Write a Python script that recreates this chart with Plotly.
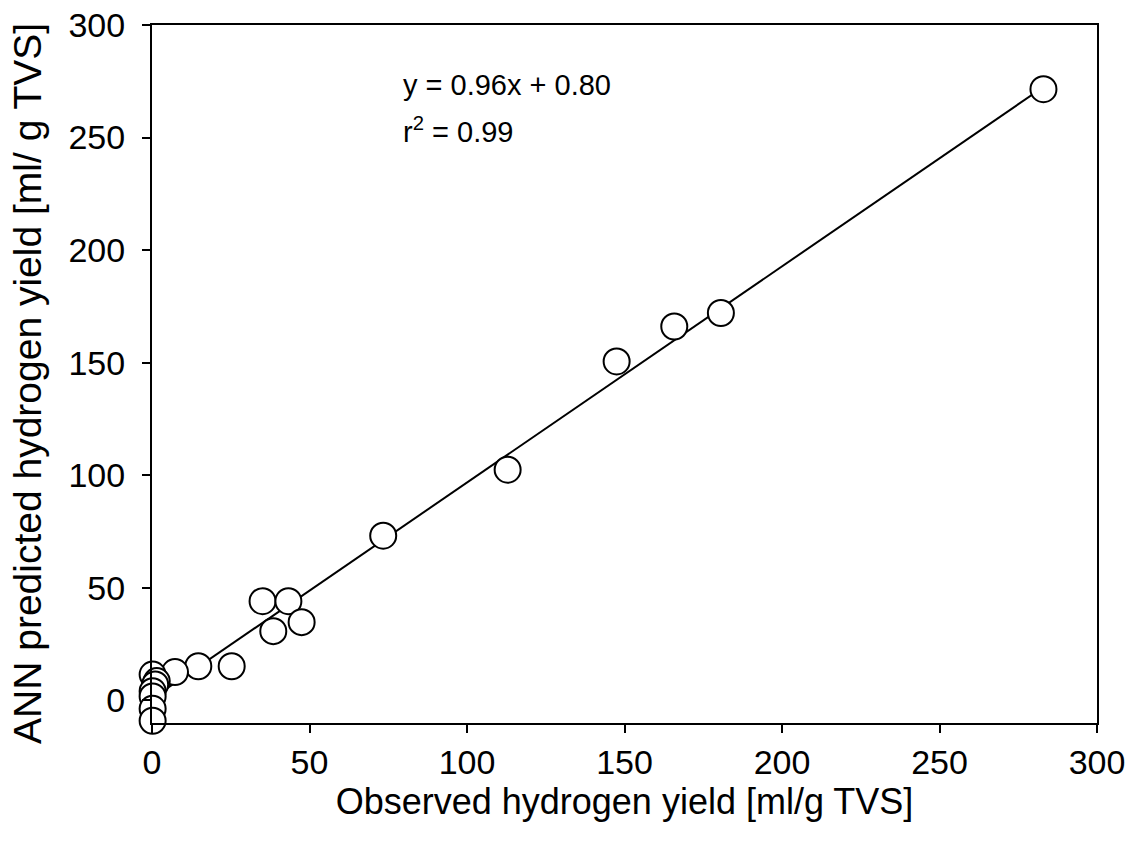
import plotly.graph_objects as go

observed = [283.0, 180.6, 165.8, 147.5, 112.9, 73.4, 35.1, 43.3, 47.5, 38.5, 25.3, 14.7, 7.3,
            0.2, 1.5, 1.0, 0.2, 0.2, 0.2, 0.2]
predicted = [271.5, 172.1, 166.1, 150.6, 102.5, 73.2, 44.1, 44.1, 34.8, 30.8, 15.2, 15.2, 12.6,
             11.5, 8.6, 7.1, 4.1, 1.8, -3.7, -9.0]
slope = 0.96
intercept = 0.80
fit_x = [0.0, 283.0]
fit_y = [slope * v + intercept for v in fit_x]

x_ticks = [0, 50, 100, 150, 200, 250, 300]
y_ticks = [0, 50, 100, 150, 200, 250, 300]

FONT = "Liberation Sans, Arial, sans-serif"

fig = go.Figure()
fig.add_trace(go.Scatter(x=fit_x, y=fit_y, mode="lines", cliponaxis=False,
                         line=dict(color="black", width=2), showlegend=False, hoverinfo="skip"))
fig.add_trace(go.Scatter(x=observed, y=predicted, mode="markers", cliponaxis=False,
                         marker=dict(size=26, color="white", line=dict(color="black", width=2)),
                         showlegend=False))

fig.add_annotation(x=79, y=273.5, xref="x", yref="y", text="y = 0.96x + 0.80",
                   showarrow=False, xanchor="left", yanchor="middle",
                   font=dict(family=FONT, size=29, color="black"))
fig.add_annotation(x=79, y=253.5, xref="x", yref="y", text="r<sup>2</sup> = 0.99",
                   showarrow=False, xanchor="left", yanchor="middle",
                   font=dict(family=FONT, size=29, color="black"))
# y-axis title as rotated annotation (positioned slightly below plot centre as in reference)
fig.add_annotation(x=-0.131, y=0.486, xref="paper", yref="paper",
                   text="ANN predicted hydrogen yield [ml/ g TVS]", textangle=-90,
                   showarrow=False, xanchor="center", yanchor="middle",
                   font=dict(family=FONT, size=39, color="black"))

axis_common = dict(showgrid=False, zeroline=False, showline=True, linecolor="black", linewidth=2,
                   mirror=True, ticks="outside", ticklen=8, tickwidth=2, tickcolor="black",
                   automargin=False,
                   tickfont=dict(family=FONT, size=34, color="black"))

fig.update_xaxes(range=[0, 300], tickvals=x_ticks, ticklabelstandoff=0,
                 title=dict(text="Observed hydrogen yield [ml/g TVS]",
                            font=dict(family=FONT, size=36, color="black"), standoff=9),
                 **axis_common)
fig.update_yaxes(range=[-10, 300], tickvals=y_ticks, ticklabelstandoff=10,
                 **axis_common)

fig.update_layout(width=1130, height=858, plot_bgcolor="white", paper_bgcolor="white",
                  margin=dict(l=152, r=33, t=25, b=135), showlegend=False)

fig.write_html("out.html")
